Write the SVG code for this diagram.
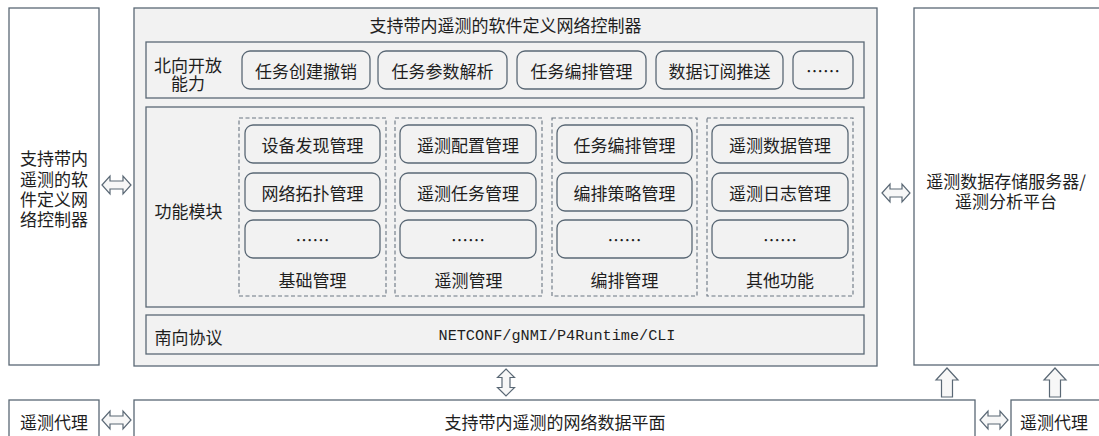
<svg xmlns="http://www.w3.org/2000/svg" width="1099" height="436" viewBox="0 0 1099 436">
<defs>
<style>
.box{fill:#ffffff;stroke:#5a6875;stroke-width:1.3}
.panel{fill:#f2f2f2;stroke:#5a6875;stroke-width:1.3}
.btn{fill:#f2f2f2;stroke:#5a6875;stroke-width:1.3}
.grp{fill:none;stroke:#6a7682;stroke-width:1.1;stroke-dasharray:4 2.5}
.arr{fill:#f7f7f7;stroke:#5a6875;stroke-width:1.2;stroke-linejoin:miter}
text{font-family:"Noto Sans CJK SC","Liberation Sans",sans-serif;font-size:17px;fill:#1e1e1e;dominant-baseline:central}
.c{text-anchor:middle}
.mono{font-family:"Liberation Mono","DejaVu Sans Mono",monospace;font-size:15.2px}
</style>
</defs>

<g id="left-controller">
<rect class="box" x="9" y="8" width="90" height="357"/>
<text class="c" x="54" y="157"><tspan x="54" y="157">支持带内</tspan><tspan x="54" y="178">遥测的软</tspan><tspan x="54" y="198">件定义网</tspan><tspan x="54" y="218">络控制器</tspan></text>
</g>

<g id="sdn-controller">
<rect class="panel" x="134" y="8" width="743" height="358"/>
<text class="c" x="505.5" y="24">支持带内遥测的软件定义网络控制器</text>
</g>

<g id="northbound">
<rect class="panel" x="146" y="42" width="718" height="56"/>
<text class="c" x="188" y="64"><tspan x="188" y="64">北向开放</tspan><tspan x="188" y="82">能力</tspan></text>
<rect class="btn" x="242" y="51" width="128" height="38" rx="8"/>
<text class="c" x="306" y="70">任务创建撤销</text>
<rect class="btn" x="378" y="51" width="129" height="38" rx="8"/>
<text class="c" x="442.5" y="70">任务参数解析</text>
<rect class="btn" x="517" y="51" width="129" height="38" rx="8"/>
<text class="c" x="581.5" y="70">任务编排管理</text>
<rect class="btn" x="656" y="51" width="127" height="38" rx="8"/>
<text class="c" x="719.5" y="70">数据订阅推送</text>
<rect class="btn" x="793" y="51" width="60" height="38" rx="8"/>
<text class="c" x="823" y="70">……</text>
</g>

<g id="function-modules">
<rect class="panel" x="146" y="107" width="718" height="200"/>
<text class="c" x="188.5" y="210">功能模块</text>
</g>

<g id="basic-mgmt">
<rect class="grp" x="239" y="118" width="147" height="178"/>
<rect class="btn" x="245" y="125" width="135" height="38" rx="8"/>
<text class="c" x="312.5" y="144">设备发现管理</text>
<rect class="btn" x="245" y="173" width="135" height="38" rx="8"/>
<text class="c" x="312.5" y="192">网络拓扑管理</text>
<rect class="btn" x="245" y="220" width="135" height="38" rx="8"/>
<text class="c" x="312.5" y="239">……</text>
<text class="c" x="312.5" y="279">基础管理</text>
</g>

<g id="telemetry-mgmt">
<rect class="grp" x="395" y="118" width="147" height="178"/>
<rect class="btn" x="400" y="125" width="136" height="38" rx="8"/>
<text class="c" x="468" y="144">遥测配置管理</text>
<rect class="btn" x="400" y="173" width="136" height="38" rx="8"/>
<text class="c" x="468" y="192">遥测任务管理</text>
<rect class="btn" x="400" y="220" width="136" height="38" rx="8"/>
<text class="c" x="468" y="239">……</text>
<text class="c" x="468.5" y="279">遥测管理</text>
</g>

<g id="orchestration-mgmt">
<rect class="grp" x="552" y="118" width="145" height="178"/>
<rect class="btn" x="557" y="125" width="135" height="38" rx="8"/>
<text class="c" x="624.5" y="144">任务编排管理</text>
<rect class="btn" x="557" y="173" width="135" height="38" rx="8"/>
<text class="c" x="624.5" y="192">编排策略管理</text>
<rect class="btn" x="557" y="220" width="135" height="38" rx="8"/>
<text class="c" x="624.5" y="239">……</text>
<text class="c" x="624.5" y="279">编排管理</text>
</g>

<g id="other-functions">
<rect class="grp" x="707" y="118" width="146" height="178"/>
<rect class="btn" x="712" y="125" width="136" height="38" rx="8"/>
<text class="c" x="780" y="144">遥测数据管理</text>
<rect class="btn" x="712" y="173" width="136" height="38" rx="8"/>
<text class="c" x="780" y="192">遥测日志管理</text>
<rect class="btn" x="712" y="220" width="136" height="38" rx="8"/>
<text class="c" x="780" y="239">……</text>
<text class="c" x="780" y="279">其他功能</text>
</g>

<g id="southbound">
<rect class="panel" x="146" y="315" width="718" height="39"/>
<text class="c" x="188.5" y="336">南向协议</text>
<text class="c mono" x="557" y="336">NETCONF/gNMI/P4Runtime/CLI</text>
</g>

<g id="storage-platform">
<rect class="box" x="914" y="8" width="192" height="357"/>
<text class="c" x="1006" y="180"><tspan x="1006" y="180">遥测数据存储服务器/</tspan><tspan x="1006" y="200">遥测分析平台</tspan></text>
</g>

<g id="data-plane">
<rect class="box" x="134" y="400" width="841" height="50"/>
<text class="c" x="555" y="421">支持带内遥测的网络数据平面</text>
</g>

<g id="agent-left">
<rect class="box" x="9" y="400" width="90" height="50"/>
<text class="c" x="54" y="421">遥测代理</text>
</g>

<g id="agent-right">
<rect class="box" x="1011" y="400" width="95" height="50"/>
<text class="c" x="1054" y="421">遥测代理</text>
</g>

<g id="connectors">
<path class="arr" d="M102,185 L110,176 L110,181 L123,181 L123,176 L131,185 L123,194 L123,189 L110,189 L110,194 Z"/>
<path class="arr" d="M882,193 L890,184 L890,189 L902,189 L902,184 L910,193 L902,202 L902,197 L890,197 L890,202 Z"/>
<path class="arr" d="M506,369 L514.5,377.5 L510,377.5 L510,387.5 L514.5,387.5 L506,396 L497.5,387.5 L502,387.5 L502,377.5 L497.5,377.5 Z"/>
<path class="arr" d="M102,420 L110,411 L110,416 L123,416 L123,411 L131,420 L123,429 L123,424 L110,424 L110,429 Z"/>
<path class="arr" d="M980,420 L988,411 L988,416 L1000,416 L1000,411 L1008,420 L1000,429 L1000,424 L988,424 L988,429 Z"/>
<path class="arr" d="M947,368 L958,380 L952.5,380 L952.5,397 L941.5,397 L941.5,380 L936,380 Z"/>
<path class="arr" d="M1055,368 L1066,380 L1060.5,380 L1060.5,397 L1049.5,397 L1049.5,380 L1044,380 Z"/>
</g>
</svg>
